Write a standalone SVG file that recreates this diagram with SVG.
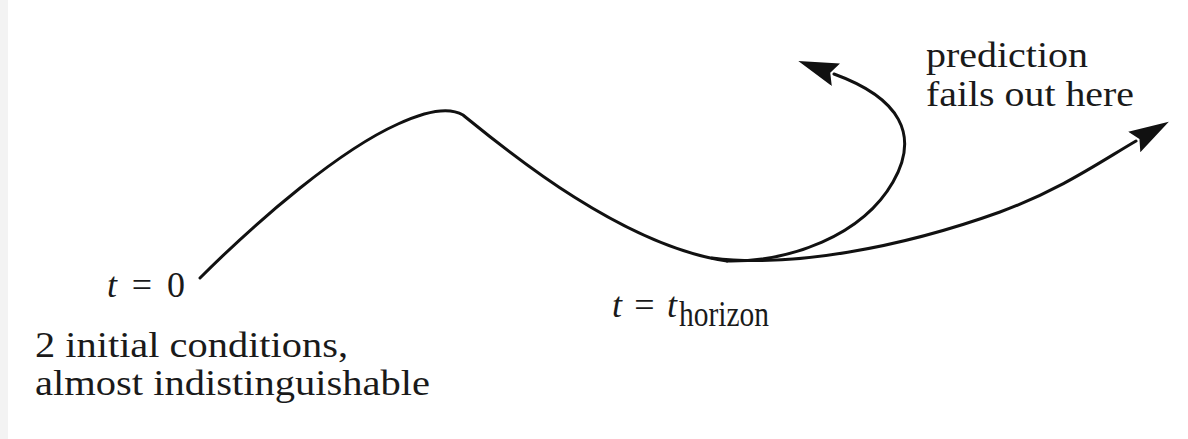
<svg xmlns="http://www.w3.org/2000/svg" width="1188" height="439" viewBox="0 0 1188 439">
<style>
.t{font-family:"Liberation Serif","Times New Roman",serif;fill:#1a1a1a;font-size:36px}
.i{font-style:italic}
.c{fill:none;stroke:#111;stroke-width:3;stroke-linecap:round}
</style>
<defs>
<marker id="ah" markerUnits="userSpaceOnUse" markerWidth="50" markerHeight="30" refX="2" refY="12" orient="auto">
<path d="M0,0 L40,12 L0,24 L6,12 Z" fill="#111"/>
</marker>
</defs>
<rect width="1188" height="439" fill="#fff"/>
<rect x="0" y="0" width="8" height="439" fill="#f3f3f3"/>
<g id="connectors">
<path class="c" d="M200,278 C260,218 340,150 398,124 C424,112 448,106 463,115 C500,145 620,246 727,261"/>
<path class="c" marker-end="url(#ah)" d="M727,261 C790,262 862,236 893,182 C920,135 900,98 834,74"/>
<path class="c" marker-end="url(#ah)" d="M712,258 C790,268 900,248 1000,212 C1060,190 1100,162 1136,141"/>
</g>
<g id="label-t0">
<text class="t" x="107" y="297" textLength="78" lengthAdjust="spacing"><tspan class="i">t</tspan> = 0</text>
</g>
<g id="label-initial">
<text class="t" x="35" y="357" textLength="313" lengthAdjust="spacingAndGlyphs">2 initial conditions,</text>
<text class="t" x="35" y="395" textLength="395" lengthAdjust="spacingAndGlyphs">almost indistinguishable</text>
</g>
<g id="label-horizon">
<text class="t" x="612" y="317" font-size="34" textLength="65" lengthAdjust="spacing"><tspan class="i">t</tspan> = <tspan class="i">t</tspan></text>
<text class="t" x="679" y="326" font-size="26" textLength="90" lengthAdjust="spacingAndGlyphs">horizon</text>
</g>
<g id="label-fails">
<text class="t" x="926" y="67" textLength="162" lengthAdjust="spacingAndGlyphs">prediction</text>
<text class="t" x="926" y="106" textLength="208" lengthAdjust="spacingAndGlyphs">fails out here</text>
</g>
</svg>
